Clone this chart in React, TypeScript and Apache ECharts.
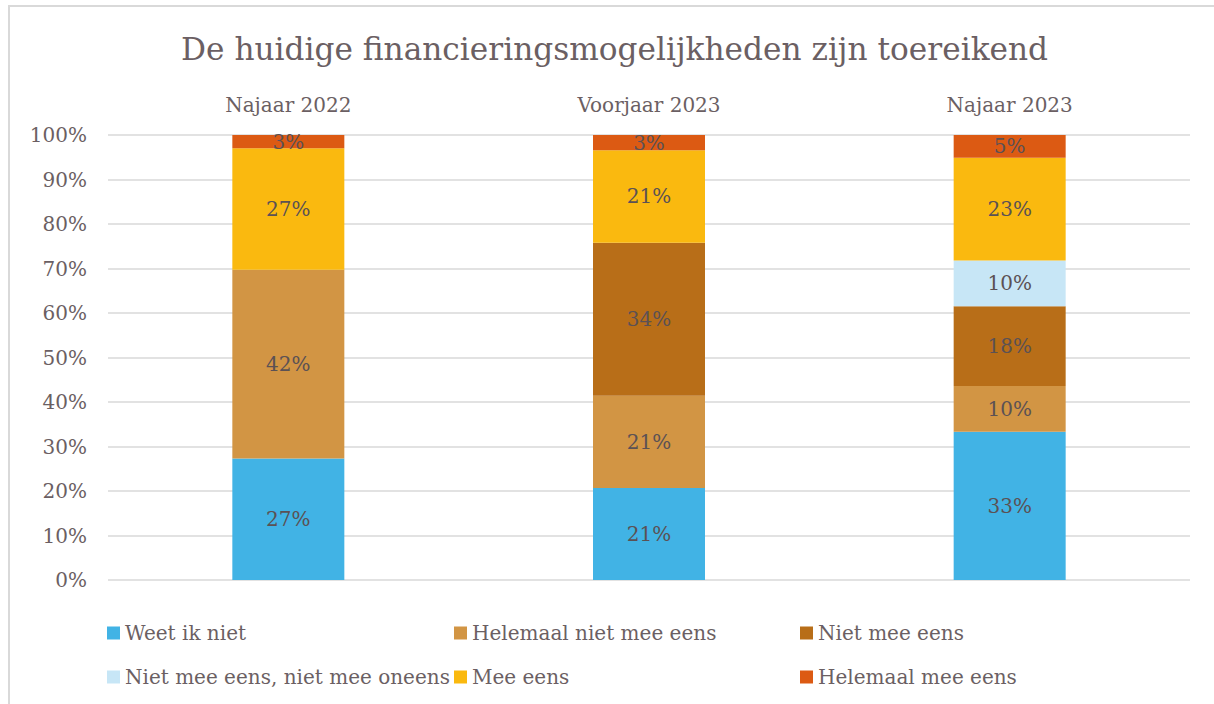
import React, { useEffect, useRef } from "react";
import * as echarts from "echarts";

const categories = ["Najaar 2022", "Voorjaar 2023", "Najaar 2023"];
const seriesNames = [
  "Weet ik niet",
  "Helemaal niet mee eens",
  "Niet mee eens",
  "Niet mee eens, niet mee oneens",
  "Mee eens",
  "Helemaal mee eens",
];
const weetIkNiet = [27.3, 20.7, 33.3];
const helemaalNietMeeEens = [42.4, 20.7, 10.3];
const nietMeeEens = [0, 34.4, 17.9];
const neutraal = [0, 0, 10.3];
const meeEens = [27.3, 20.8, 23.1];
const helemaalMeeEens = [3.0, 3.4, 5.1];
const yTicks = [0, 10, 20, 30, 40, 50, 60, 70, 80, 90, 100];

const seriesValues = [weetIkNiet, helemaalNietMeeEens, nietMeeEens, neutraal, meeEens, helemaalMeeEens];
const colors = ["#41B3E5", "#D29544", "#B86E18", "#C7E6F6", "#FAB90F", "#DC5A13"];

const FONT = "DejaVu Serif";
const TEXT = "#6b5f63";
const LABEL = "#5b5154";

export default function App() {
  const ref = useRef<HTMLDivElement>(null);
  useEffect(() => {
    if (!ref.current) return;
    const chart = echarts.init(ref.current, null, { renderer: "svg" });
    const legendCol = (names: string[], left: number) => ({
      data: names,
      orient: "vertical",
      left,
      top: 618,
      itemWidth: 13,
      itemHeight: 13,
      itemGap: 24,
      icon: "rect",
      textStyle: { fontFamily: FONT, fontSize: 20, color: TEXT, lineHeight: 20 },
      selectedMode: false,
    });
    chart.setOption({
      animation: false,
      color: colors,
      textStyle: { fontFamily: FONT },
      title: {
        text: "De huidige financieringsmogelijkheden zijn toereikend",
        left: 176,
        top: 28,
        textStyle: { fontFamily: FONT, fontSize: 31.2, fontWeight: "normal", color: TEXT },
      },
      graphic: [
        {
          type: "rect",
          shape: { x: 9, y: 6, width: 1300, height: 800 },
          style: { fill: "none", stroke: "#d9d9d9", lineWidth: 2 },
          silent: true,
        },
      ],
      legend: [
        legendCol([seriesNames[0], seriesNames[3]], 102),
        legendCol([seriesNames[1], seriesNames[4]], 449),
        legendCol([seriesNames[2], seriesNames[5]], 795),
      ],
      grid: { left: 108, right: 24, top: 135, bottom: 124, containLabel: false },
      xAxis: {
        type: "category",
        data: categories,
        position: "top",
        axisLine: { show: false },
        axisTick: { show: false },
        axisLabel: { fontFamily: FONT, fontSize: 20, color: TEXT, margin: 20 },
      },
      yAxis: {
        type: "value",
        min: 0,
        max: 100,
        interval: 10,
        axisLine: { show: false },
        axisTick: { show: false },
        axisLabel: {
          fontFamily: FONT,
          fontSize: 20,
          color: TEXT,
          margin: 21,
          formatter: (v: number) => (yTicks.includes(v) ? v + "%" : ""),
        },
        splitLine: { lineStyle: { color: "#d9d9d9", width: 1.5 } },
      },
      series: seriesNames.map((name, i) => ({
        name,
        type: "bar",
        stack: "total",
        barWidth: 112,
        data: seriesValues[i],
        itemStyle: { color: colors[i] },
        label: {
          show: true,
          position: "inside",
          fontFamily: FONT,
          fontSize: 20,
          color: LABEL,
          formatter: (p: any) => (p.value > 0 ? Math.round(p.value) + "%" : ""),
        },
      })),
    });
    return () => chart.dispose();
  }, []);
  return (
    <div
      ref={ref}
      style={{ position: "absolute", left: 0, top: 0, width: 1214, height: 704, background: "#fff" }}
    />
  );
}
